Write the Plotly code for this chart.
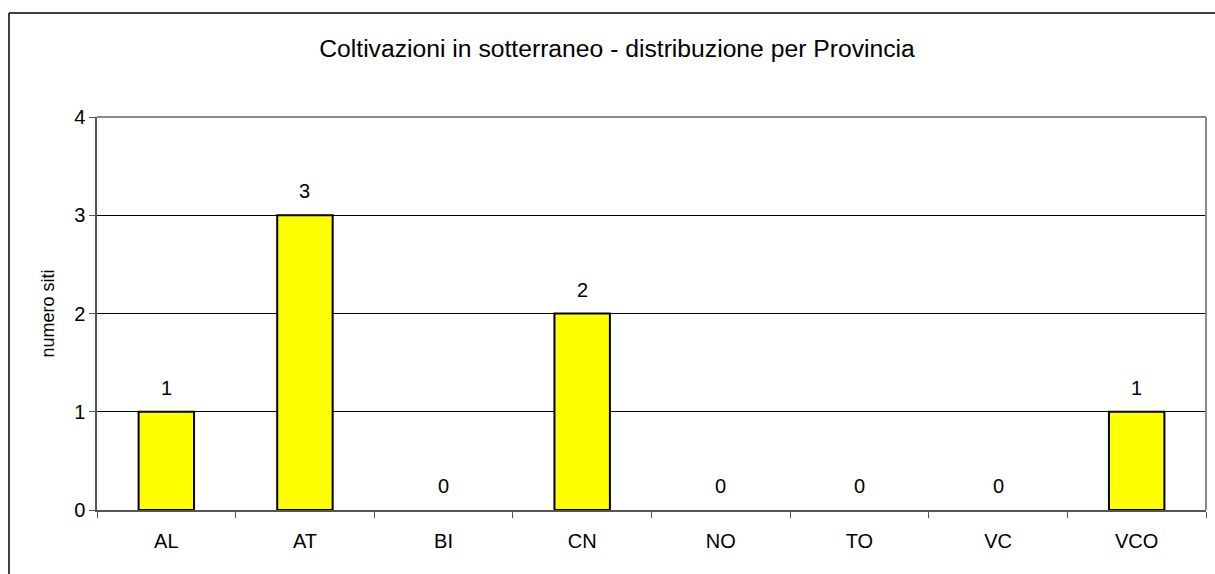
import plotly.graph_objects as go

categories = ["AL", "AT", "BI", "CN", "NO", "TO", "VC", "VCO"]
values = [1, 3, 0, 2, 0, 0, 0, 1]
y_ticks = [0, 1, 2, 3, 4]
title_text = "Coltivazioni in sotterraneo - distribuzione per Provincia"
y_title = "numero siti"

FONT = "Liberation Sans, Arial, sans-serif"

fig = go.Figure()
fig.add_trace(go.Bar(
    x=categories, y=values,
    marker=dict(color="#FFFF00",
                line=dict(color="black", width=[2 if v > 0 else 0 for v in values])),
    hoverinfo="x+y",
))

annotations = []
for c, v in zip(categories, values):
    annotations.append(dict(
        x=c, y=v, xref="x", yref="y", text=str(v), showarrow=False,
        yanchor="middle", yshift=24, font=dict(family=FONT, size=20, color="black"),
    ))

W, H = 1215, 574
ml, mr, mt, mb = 97, 9, 117, 64
pw, ph = W - ml - mr, H - mt - mb

def px_x(p):
    return (p - ml) / pw

def px_y(p):
    return 1 - (p - mt) / ph

shapes = [
    dict(type="line", xref="paper", yref="paper", x0=px_x(9), x1=px_x(9), y0=px_y(13), y1=px_y(600),
         line=dict(color="black", width=1.5)),
    dict(type="line", xref="paper", yref="paper", x0=px_x(9), x1=px_x(1240), y0=px_y(13), y1=px_y(13),
         line=dict(color="black", width=1.5)),
    dict(type="line", xref="paper", yref="paper", x0=0, x1=1, y0=1, y1=1,
         line=dict(color="#8a8a8a", width=2)),
    dict(type="line", xref="paper", yref="paper", x0=1, x1=1, y0=0, y1=1,
         line=dict(color="#8a8a8a", width=2)),
]

fig.update_layout(
    width=W, height=H,
    margin=dict(l=ml, r=mr, t=mt, b=mb, pad=0),
    paper_bgcolor="white", plot_bgcolor="white",
    showlegend=False,
    bargap=0.6,
    font=dict(family=FONT, size=20, color="black"),
    title=dict(text=title_text, x=617 / W, xref="container", xanchor="center",
               y=1 - 48 / H, yref="container", yanchor="middle",
               font=dict(family=FONT, size=24.7, color="black")),
    xaxis=dict(
        type="category", categoryorder="array", categoryarray=categories,
        showline=True, linecolor="#555555", linewidth=1.5,
        ticks="outside", tickson="boundaries", ticklen=6, tickcolor="#555555", tickwidth=1,
        showgrid=False, tickfont=dict(family=FONT, size=20, color="black"),
        ticklabelstandoff=12,
    ),
    yaxis=dict(
        range=[0, 4], tickvals=y_ticks, ticktext=[str(t) for t in y_ticks],
        showline=True, linecolor="#555555", linewidth=1.5,
        ticks="outside", ticklen=6, tickcolor="#555555", tickwidth=1,
        showgrid=True, gridcolor="black", gridwidth=1, zeroline=False,
        tickfont=dict(family=FONT, size=20, color="black"),
        title=dict(text=y_title, font=dict(family=FONT, size=18, color="black"), standoff=15),
    ),
    annotations=annotations,
    shapes=shapes,
)

fig.write_html("out.html", config={"displayModeBar": False},
               post_script="document.body.style.margin='0';")
